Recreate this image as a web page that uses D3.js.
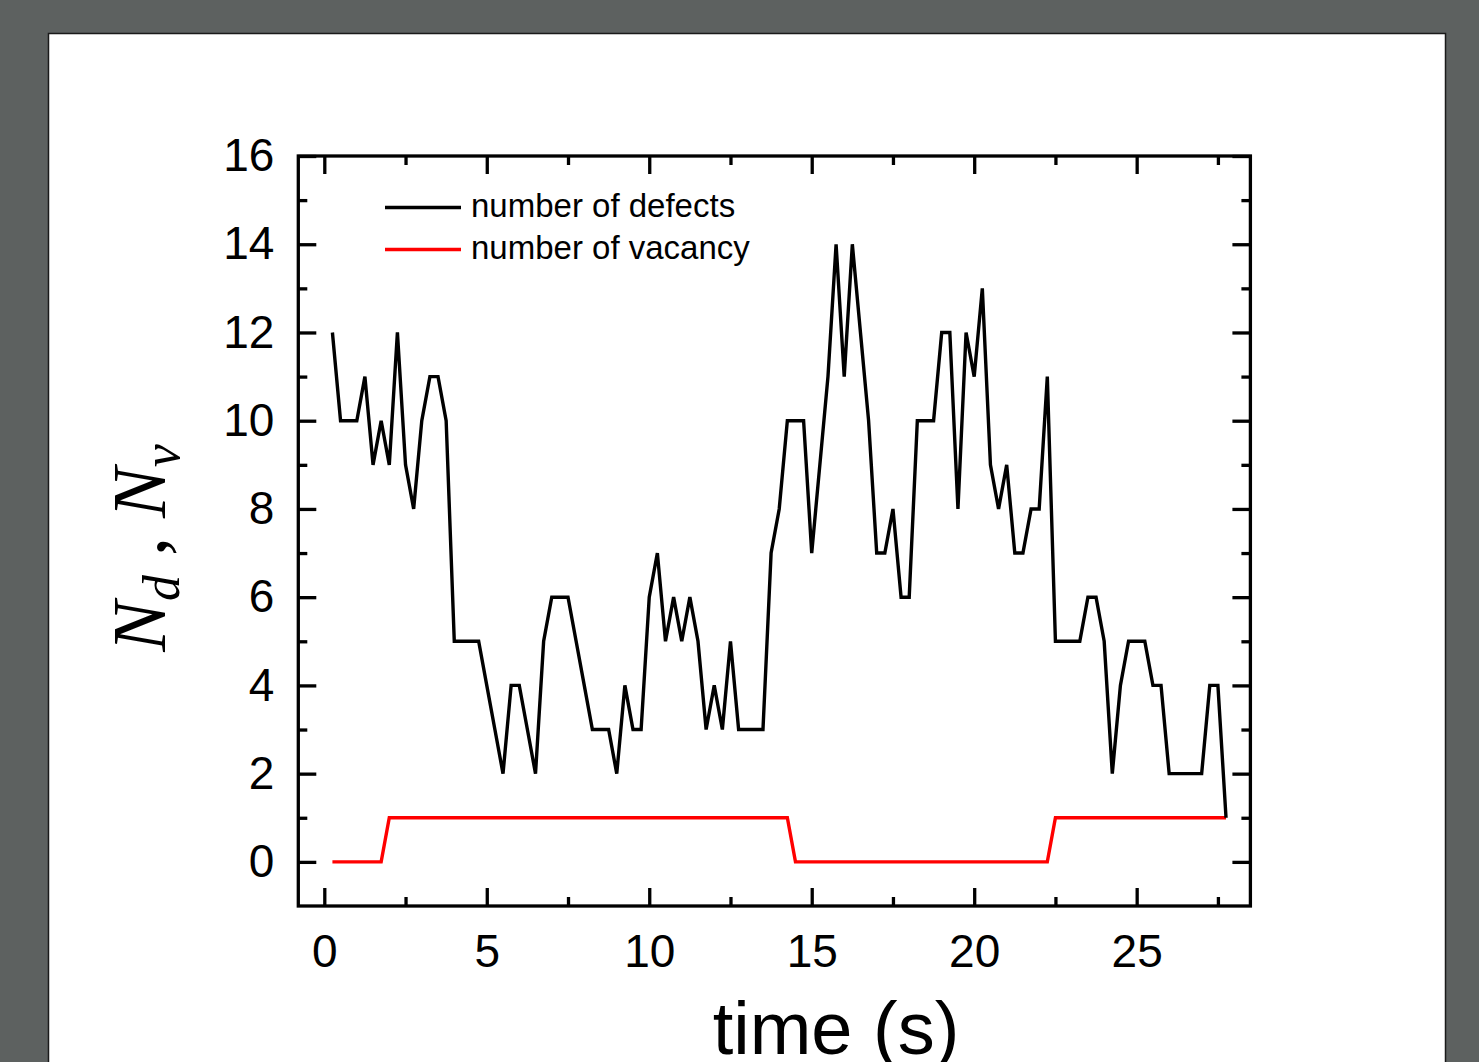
<!DOCTYPE html>
<html>
<head>
<meta charset="utf-8">
<script src="https://cdn.jsdelivr.net/npm/d3@7"></script>
<style>
  html, body { margin: 0; padding: 0; background: #5d6160; }
  svg { display: block; }
</style>
</head>
<body>
<script>
  // time of each sample (s)
  var times = [0.25, 0.5, 0.75, 1, 1.25, 1.5, 1.75, 2, 2.25, 2.5, 2.75, 3, 3.25, 3.5, 3.75,
    4, 4.25, 4.5, 4.75, 5, 5.25, 5.5, 5.75, 6, 6.25, 6.5, 6.75, 7, 7.25, 7.5, 7.75,
    8, 8.25, 8.5, 8.75, 9, 9.25, 9.5, 9.75, 10, 10.25, 10.5, 10.75, 11, 11.25, 11.5, 11.75,
    12, 12.25, 12.5, 12.75, 13, 13.25, 13.5, 13.75, 14, 14.25, 14.5, 14.75, 15, 15.25, 15.5, 15.75,
    16, 16.25, 16.5, 16.75, 17, 17.25, 17.5, 17.75, 18, 18.25, 18.5, 18.75, 19, 19.25, 19.5, 19.75,
    20, 20.25, 20.5, 20.75, 21, 21.25, 21.5, 21.75, 22, 22.25, 22.5, 22.75, 23, 23.25, 23.5, 23.75,
    24, 24.25, 24.5, 24.75, 25, 25.25, 25.5, 25.75, 26, 26.25, 26.5, 26.75, 27, 27.25, 27.5, 27.75];

  // number of defects
  var defects = [12, 10, 10, 10, 11, 9, 10, 9, 12, 9,
    8, 10, 11, 11, 10, 5, 5, 5, 5, 4,
    3, 2, 4, 4, 3, 2, 5, 6, 6, 6,
    5, 4, 3, 3, 3, 2, 4, 3, 3, 6,
    7, 5, 6, 5, 6, 5, 3, 4, 3, 5,
    3, 3, 3, 3, 7, 8, 10, 10, 10, 7,
    9, 11, 14, 11, 14, 12, 10, 7, 7, 8,
    6, 6, 10, 10, 10, 12, 12, 8, 12, 11,
    13, 9, 8, 9, 7, 7, 8, 8, 11, 5,
    5, 5, 5, 6, 6, 5, 2, 4, 5, 5,
    5, 4, 4, 2, 2, 2, 2, 2, 4, 4,
    1];

  // number of vacancy
  var vacancy = [0, 0, 0, 0, 0, 0, 0, 1, 1, 1,
    1, 1, 1, 1, 1, 1, 1, 1, 1, 1,
    1, 1, 1, 1, 1, 1, 1, 1, 1, 1,
    1, 1, 1, 1, 1, 1, 1, 1, 1, 1,
    1, 1, 1, 1, 1, 1, 1, 1, 1, 1,
    1, 1, 1, 1, 1, 1, 1, 0, 0, 0,
    0, 0, 0, 0, 0, 0, 0, 0, 0, 0,
    0, 0, 0, 0, 0, 0, 0, 0, 0, 0,
    0, 0, 0, 0, 0, 0, 0, 0, 0, 1,
    1, 1, 1, 1, 1, 1, 1, 1, 1, 1,
    1, 1, 1, 1, 1, 1, 1, 1, 1, 1,
    1];

  var xMajor = [0, 5, 10, 15, 20, 25];
  var xMinor = [2.5, 7.5, 12.5, 17.5, 22.5, 27.5];
  var yMajor = [0, 2, 4, 6, 8, 10, 12, 14, 16];
  var yMinor = [1, 3, 5, 7, 9, 11, 13, 15];

  var seriesNames = ['number of defects', 'number of vacancy'];
  var seriesColors = ['#000000', '#ff0000'];

(function() {
  'use strict';

  var W = 1479, H = 1062;
  var mLeft = 298.3, mRight = 1250.4, mTop = 156, mBottom = 906;
  var tickFont = '"Liberation Sans", Arial, sans-serif';

  var svg = d3.select('body').append('svg')
    .attr('width', W)
    .attr('height', H);

  svg.append('rect')
    .attr('width', W).attr('height', H)
    .attr('fill', '#5d6160');

  // white page
  svg.append('rect')
    .attr('x', 48.5).attr('y', 33.5)
    .attr('width', 1397).attr('height', 1060)
    .attr('fill', '#ffffff')
    .attr('stroke', '#1a1a1a')
    .attr('stroke-width', 1.5);

  var x = d3.scaleLinear().domain([-0.8, 28.5]).range([mLeft, mRight]);
  var y = d3.scaleLinear().domain([-1, 16]).range([mBottom, mTop]);

  function styleAxis(g) {
    g.select('.domain').remove();
    g.selectAll('.tick line').attr('stroke', '#000').attr('stroke-width', 3.3);
    g.selectAll('.tick text')
      .attr('fill', '#000')
      .attr('font-family', tickFont)
      .attr('font-size', 46);
  }

  // bottom
  svg.append('g').attr('transform', 'translate(0,' + mBottom + ')')
    .call(d3.axisBottom(x).tickValues(xMajor).tickSize(-18).tickPadding(28).tickFormat(d3.format('d')))
    .call(styleAxis);
  svg.append('g').attr('transform', 'translate(0,' + mBottom + ')')
    .call(d3.axisBottom(x).tickValues(xMinor).tickSize(-9).tickFormat(''))
    .call(styleAxis);
  // top
  svg.append('g').attr('transform', 'translate(0,' + mTop + ')')
    .call(d3.axisTop(x).tickValues(xMajor).tickSize(-18).tickFormat(''))
    .call(styleAxis);
  svg.append('g').attr('transform', 'translate(0,' + mTop + ')')
    .call(d3.axisTop(x).tickValues(xMinor).tickSize(-9).tickFormat(''))
    .call(styleAxis);
  // left
  svg.append('g').attr('transform', 'translate(' + mLeft + ',0)')
    .call(d3.axisLeft(y).tickValues(yMajor).tickSize(-18).tickPadding(24).tickFormat(d3.format('d')))
    .call(styleAxis);
  svg.append('g').attr('transform', 'translate(' + mLeft + ',0)')
    .call(d3.axisLeft(y).tickValues(yMinor).tickSize(-9).tickFormat(''))
    .call(styleAxis);
  // right
  svg.append('g').attr('transform', 'translate(' + mRight + ',0)')
    .call(d3.axisRight(y).tickValues(yMajor).tickSize(-18).tickFormat(''))
    .call(styleAxis);
  svg.append('g').attr('transform', 'translate(' + mRight + ',0)')
    .call(d3.axisRight(y).tickValues(yMinor).tickSize(-9).tickFormat(''))
    .call(styleAxis);

  // frame
  svg.append('rect')
    .attr('x', mLeft).attr('y', mTop)
    .attr('width', mRight - mLeft).attr('height', mBottom - mTop)
    .attr('fill', 'none')
    .attr('stroke', '#000')
    .attr('stroke-width', 3.3);

  var line = d3.line()
    .x(function(d) { return x(d[0]); })
    .y(function(d) { return y(d[1]); });

  var series = [d3.zip(times, vacancy), d3.zip(times, defects)];
  var colors = [seriesColors[1], seriesColors[0]];

  svg.selectAll('path.series')
    .data(series)
    .enter()
    .append('path')
    .attr('class', 'series')
    .attr('d', line)
    .attr('fill', 'none')
    .attr('stroke', function(d, i) { return colors[i]; })
    .attr('stroke-width', 3.4);

  // legend
  var legend = svg.selectAll('g.legend')
    .data(seriesNames)
    .enter()
    .append('g')
    .attr('class', 'legend')
    .attr('transform', function(d, i) { return 'translate(385,' + (207.5 + i * 42) + ')'; });

  legend.append('line')
    .attr('x1', 0).attr('x2', 76)
    .attr('stroke', function(d, i) { return seriesColors[i]; })
    .attr('stroke-width', 3.4);

  legend.append('text')
    .attr('x', 86).attr('y', 9.5)
    .attr('font-family', tickFont)
    .attr('font-size', 33)
    .attr('fill', '#000')
    .text(function(d) { return d; });

  // x title
  svg.append('text')
    .attr('x', 836).attr('y', 1054)
    .attr('text-anchor', 'middle')
    .attr('font-family', tickFont)
    .attr('font-size', 74)
    .attr('fill', '#000')
    .text('time (s)');

  // y title: N_d , N_v
  var yt = svg.append('text')
    .attr('transform', 'translate(165,548) rotate(-90)')
    .attr('text-anchor', 'middle')
    .attr('font-family', '"Liberation Serif", "Times New Roman", serif')
    .attr('font-style', 'italic')
    .attr('font-size', 76)
    .attr('fill', '#000');
  yt.append('tspan').text('N');
  yt.append('tspan').attr('font-size', 52).attr('dy', 14).text('d');
  yt.append('tspan').attr('dy', -14).attr('font-style', 'normal').text(' , ');
  yt.append('tspan').text('N');
  yt.append('tspan').attr('font-size', 52).attr('dy', 14).text('v');
})();
</script>
</body>
</html>
